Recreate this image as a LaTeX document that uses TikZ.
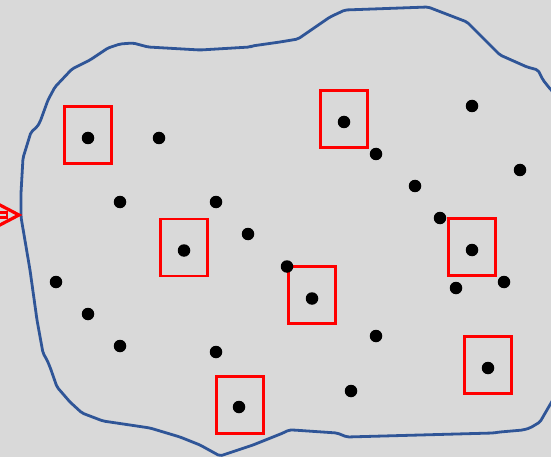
\documentclass[tikz,border=0pt]{standalone}
\usetikzlibrary{calc}
\definecolor{bg}{HTML}{D9D9D9}
\definecolor{outl}{HTML}{2F5597}
\begin{document}
\begin{tikzpicture}[x=1pt,y=-1pt,
  dot/.style={circle,fill=black,inner sep=0pt,minimum size=12.5pt},
  sq/.style={draw=red,line width=2.2pt,minimum width=47pt,minimum height=57pt,inner sep=0pt},
  border/.style={draw=outl,line width=2.8pt,line join=round,rounded corners=2pt},
  marker/.style={draw=red,line width=3.2pt,line join=miter}]
\fill[bg] (0,0) rectangle (551,457);
\useasboundingbox (0,0) rectangle (551,457);
\begin{scope}
\clip (0,0) rectangle (551,457);
\draw[border] (21,217) -- (21,193) -- (23,158) -- (31,132) -- (37,127) -- (40,122) -- (48,100) -- (55,87) -- (72,69) -- (90,60) -- (108,48) -- (120,44) -- (133,43) -- (148,47) -- (200,50) -- (250,47) -- (252,46) -- (280,42) -- (298,39) -- (330,17) -- (345,10) -- (428,7) -- (467,22) -- (500,55) -- (527,67) -- (538,70) -- (543,80) -- (551,90) -- (562,100) -- (562,385) -- (551,403) -- (540,422) -- (530,428) -- (523,430) -- (500,432) -- (493,433) -- (347,437) -- (337,433) -- (293,430) -- (289,430) -- (283,433) -- (253,445) -- (220,456) -- (200,445) -- (180,437) -- (150,428) -- (130,425) -- (103,421) -- (82,413) -- (70,402) -- (57,387) -- (50,367) -- (47,360) -- (43,353) -- (37,320) -- (30,270) -- cycle;
\coordinate (mtop) at (-2,204);
\coordinate (mtip) at (19,215);
\coordinate (mbot) at (-2,226);
\draw[marker] (mtop) -- (mtip) -- (mbot);
\draw[draw=red,line width=2.2pt] (-4,212.5) rectangle (7,217.5);
\end{scope}
% squares
\node[sq] (s1) at (88,135) {};
\node[sq] (s2) at (344,119) {};
\node[sq] (s3) at (184,247.5) {};
\node[sq] (s4) at (472,247) {};
\node[sq] (s5) at (312,295) {};
\node[sq] (s6) at (488,365) {};
\node[sq] (s7) at (240,405) {};
% dots
\node[dot] (d1) at (88,138) {};
\node[dot] (d2) at (159,138) {};
\node[dot] (d3) at (344,122) {};
\node[dot] (d4) at (472,106) {};
\node[dot] (d5) at (376,154) {};
\node[dot] (d6) at (520,170) {};
\node[dot] (d7) at (415,186) {};
\node[dot] (d8) at (120,202) {};
\node[dot] (d9) at (216,202) {};
\node[dot] (d10) at (440,218) {};
\node[dot] (d11) at (184,250.5) {};
\node[dot] (d12) at (248,234) {};
\node[dot] (d13) at (472,250) {};
\node[dot] (d14) at (287,266.5) {};
\node[dot] (d15) at (312,298.5) {};
\node[dot] (d16) at (456,288) {};
\node[dot] (d17) at (504,282) {};
\node[dot] (d18) at (56,282) {};
\node[dot] (d19) at (88,314) {};
\node[dot] (d20) at (120,346) {};
\node[dot] (d21) at (216,352) {};
\node[dot] (d22) at (376,336) {};
\node[dot] (d23) at (488,368) {};
\node[dot] (d24) at (239,407) {};
\node[dot] (d25) at (351,391) {};
\end{tikzpicture}
\end{document}
